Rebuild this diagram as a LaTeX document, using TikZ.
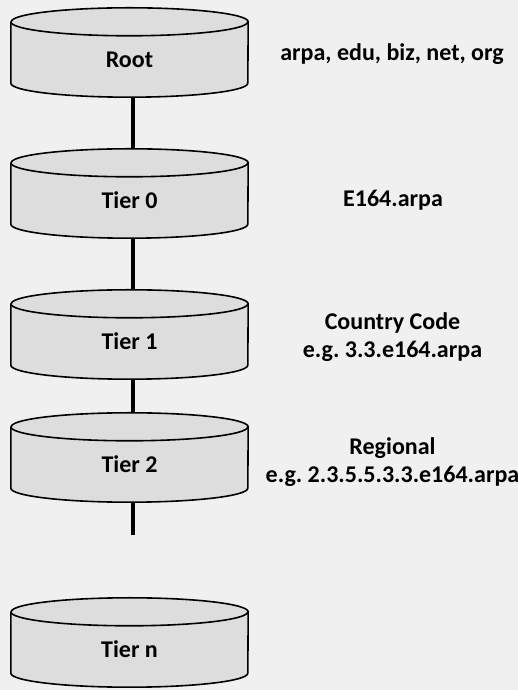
\documentclass[tikz,border=0pt]{standalone}
\usepackage{fontspec}
\setmainfont{Carlito}
\frenchspacing
\usetikzlibrary{calc}
\pgfdeclarelayer{background}
\pgfdeclarelayer{canvas}
\pgfsetlayers{canvas,background,main}
\definecolor{pagebg}{HTML}{F0F0F0}
\definecolor{cylgray}{HTML}{DDDDDD}
\tikzset{
  tier/.style={minimum width=237pt, minimum height=75pt, inner sep=0pt,
    font=\bfseries\fontsize{24}{28}\selectfont},
  note/.style={align=center, inner sep=0pt, font=\bfseries\fontsize{24}{28}\selectfont},
  cylbody/.style={fill=cylgray, draw=black, line width=1.6pt, line join=round},
  cylrim/.style={draw=black, line width=1.6pt},
  link/.style={line width=4pt},
}
% database-style cylinder around a tier node: north = centre of the top ellipse,
% south = lowest point of the bottom rim
\newcommand\tiercyl[1]{%
  \path[cylbody] (#1.north west) -- ([yshift=14pt]#1.south west)
    arc[start angle=180, end angle=360, x radius=118.5pt, y radius=14pt]
    -- (#1.north east)
    arc[start angle=0, end angle=180, x radius=118.5pt, y radius=14pt] -- cycle;
  \path[cylrim] (#1.north west)
    arc[start angle=180, end angle=360, x radius=118.5pt, y radius=14pt];
}
\begin{document}
\begin{tikzpicture}[x=1pt, y=1pt]
  \begin{pgfonlayer}{canvas}
    \fill[pagebg] (0,0) rectangle (518,690);
  \end{pgfonlayer}
  \useasboundingbox (0,0) rectangle (518,690);

  % tiers
  \node[tier] (root) at (129.5,630.5) {Root};
  \node[tier] (t0)   at (129.5,489.5) {Tier 0};
  \node[tier] (t1)   at (129.5,348.5) {Tier 1};
  \node[tier] (t2)   at (129.5,225.5) {Tier 2};
  \node[tier] (tn)   at (129.5,40.5)  {Tier n};
  \coordinate (t2tail) at (133,155);

  % descriptions
  \node[note] (nroot) at (392,636) {arpa, edu, biz, net, org};
  \node[note] (nt0)   at (393,490) {E164.arpa};
  \node[note] (nt1)   at (392.5,353) {Country Code\\e.g. 3.3.e164.arpa};
  \node[note] (nt2)   at (392.5,228) {Regional\\e.g. 2.3.5.5.3.3.e164.arpa};

  \begin{pgfonlayer}{background}
    \draw[link] ([xshift=3.5pt]root.south) -- ([xshift=3.5pt,yshift=14pt]t0.north);
    \draw[link] ([xshift=3.5pt]t0.south) -- ([xshift=3.5pt,yshift=14pt]t1.north);
    \draw[link] ([xshift=3.5pt]t1.south) -- ([xshift=3.5pt,yshift=14pt]t2.north);
    \draw[link] ([xshift=3.5pt]t2.south) -- (t2tail);
    \tiercyl{root}
    \tiercyl{t0}
    \tiercyl{t1}
    \tiercyl{t2}
    \tiercyl{tn}
  \end{pgfonlayer}
\end{tikzpicture}
\end{document}
